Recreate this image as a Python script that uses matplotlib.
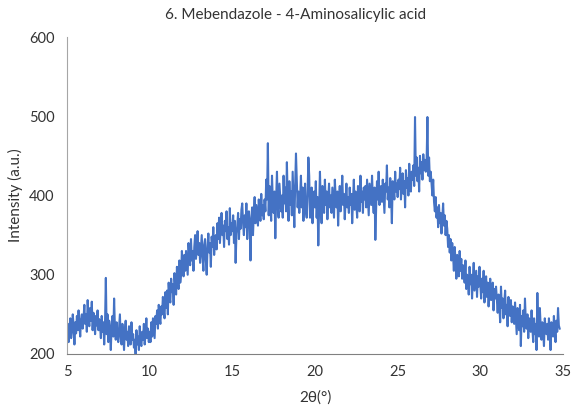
import numpy as np
import matplotlib.pyplot as plt

# Diffractogram: 2theta from 5 deg, step 0.05 deg
start = 5.0
step = 0.05

# intensities, one row per degree (20 readings each)
intensity = [
    225, 238, 215, 232, 245, 220, 228, 250, 235, 212, 240, 226, 248, 230, 255, 236, 222, 244, 250, 232,   # 5
    245, 262, 238, 250, 228, 268, 246, 235, 258, 242, 266, 230, 252, 240, 225, 248, 236, 255, 230, 244,   # 6
    235, 220, 248, 228, 240, 212, 238, 296, 225, 250, 215, 242, 230, 205, 236, 248, 222, 270, 232, 218,   # 7
    240, 226, 215, 232, 250, 220, 212, 238, 226, 205, 230, 242, 218, 228, 210, 235, 222, 212, 240, 218,   # 8
    225, 208, 218, 200, 230, 212, 222, 205, 235, 215, 210, 228, 218, 238, 212, 225, 245, 220, 232, 215,   # 9
    228, 215, 240, 222, 245, 232, 220, 248, 238, 255, 232, 262, 245, 238, 260, 250, 272, 255, 245, 278,   # 10
    258, 280, 250, 290, 272, 265, 295, 278, 288, 262, 302, 285, 275, 310, 292, 282, 318, 290, 300, 330,   # 11
    310, 298, 325, 305, 330, 315, 300, 340, 322, 312, 345, 318, 330, 305, 335, 350, 320, 332, 355, 325,   # 12
    340, 315, 332, 350, 322, 305, 338, 345, 318, 300, 335, 352, 328, 340, 310, 348, 335, 360, 325, 342,   # 13
    350, 332, 365, 345, 372, 340, 358, 378, 350, 362, 335, 368, 355, 380, 345, 360, 338, 384, 350, 365,   # 14
    355, 375, 340, 368, 315, 352, 362, 378, 345, 370, 358, 382, 390, 365, 350, 375, 360, 390, 345, 372,   # 15
    380, 360, 318, 372, 385, 350, 378, 398, 365, 388, 375, 362, 395, 380, 368, 402, 375, 388, 370, 395,   # 16
    380, 420, 395, 466, 375, 412, 388, 368, 425, 392, 378, 405, 346, 395, 430, 385, 372, 415, 398, 380,   # 17
    400, 372, 425, 390, 410, 380, 442, 395, 368, 418, 388, 405, 375, 430, 395, 360, 412, 453, 420, 385,   # 18
    405, 378, 398, 425, 385, 410, 368, 395, 415, 380, 372, 400, 448, 425, 372, 398, 410, 365, 392, 405,   # 19
    385, 418, 372, 398, 337, 382, 430, 390, 365, 412, 398, 378, 420, 388, 405, 370, 395, 415, 385, 400,   # 20
    378, 410, 392, 372, 420, 398, 385, 405, 362, 395, 412, 380, 398, 425, 388, 402, 370, 392, 415, 385,   # 21
    398, 378, 410, 388, 402, 365, 395, 420, 382, 405, 390, 372, 412, 398, 380, 425, 392, 405, 378, 410,   # 22
    395, 412, 385, 420, 398, 375, 415, 402, 388, 425, 395, 378, 410, 344, 385, 418, 395, 430, 388, 405,   # 23
    412, 392, 420, 400, 378, 415, 405, 438, 395, 410, 385, 422, 402, 365, 418, 408, 395, 430, 405, 415,   # 24
    398, 420, 408, 435, 395, 415, 428, 402, 418, 385, 432, 410, 422, 400, 440, 415, 405, 430, 420, 438,   # 25
    412, 499, 425, 448, 418, 435, 405, 450, 428, 442, 420, 452, 432, 445, 430, 440, 499, 425, 448, 418,   # 26
    430, 415, 400, 420, 392, 380, 398, 372, 385, 360, 388, 365, 378, 352, 372, 390, 362, 375, 350, 368,   # 27
    358, 335, 350, 328, 345, 318, 340, 325, 305, 335, 318, 295, 325, 310, 298, 330, 305, 320, 295, 312,   # 28
    305, 290, 318, 282, 300, 295, 275, 310, 288, 300, 270, 295, 315, 280, 292, 305, 272, 298, 285, 310,   # 29
    288, 270, 295, 278, 305, 265, 285, 298, 272, 290, 260, 282, 295, 268, 278, 290, 255, 282, 270, 285,   # 30
    268, 252, 275, 262, 240, 285, 258, 270, 245, 265, 280, 250, 262, 235, 272, 255, 248, 268, 240, 260,   # 31
    250, 238, 265, 245, 225, 258, 240, 230, 262, 210, 248, 235, 255, 228, 270, 242, 232, 250, 220, 245,   # 32
    240, 228, 255, 232, 215, 245, 225, 238, 205, 277, 230, 222, 258, 235, 218, 240, 228, 210, 245, 232,   # 33
    225, 238, 218, 245, 228, 205, 240, 232, 222, 248, 230, 215, 242, 228, 258, 236, 232,                  # 34
]

two_theta = np.round(start + step * np.arange(len(intensity)), 2)

plt.rcParams['font.family'] = ['Lato', 'DejaVu Sans']

fig = plt.figure(figsize=(5.81, 4.13), dpi=100)
ax = fig.add_axes([0.1153, 0.1429, 0.8537, 0.7675])

ax.plot(two_theta, intensity, color='#4472C4', linewidth=1.5)

ax.set_xlim(5, 35)
ax.set_ylim(200, 600)
ax.set_xticks(range(5, 36, 5))
ax.set_yticks(range(200, 601, 100))

ax.spines['top'].set_visible(False)
ax.spines['right'].set_visible(False)
ax.spines['left'].set_color('#a6a6a6')
ax.spines['bottom'].set_color('#808080')
ax.tick_params(length=0, labelsize=10.5, labelcolor='#333333')
ax.tick_params(axis='y', pad=9)
ax.tick_params(axis='x', pad=8)

fig.text(0.508, 0.963, '6. Mebendazole - 4-Aminosalicylic acid', fontsize=11,
         color='#333333', ha='center', va='center')
ax.set_xlabel('2θ(°)', fontsize=11, color='#333333', labelpad=8)
ax.set_ylabel('Intensity (a.u.)', fontsize=11, color='#333333', labelpad=4)

fig.savefig('out.png', dpi=100)
